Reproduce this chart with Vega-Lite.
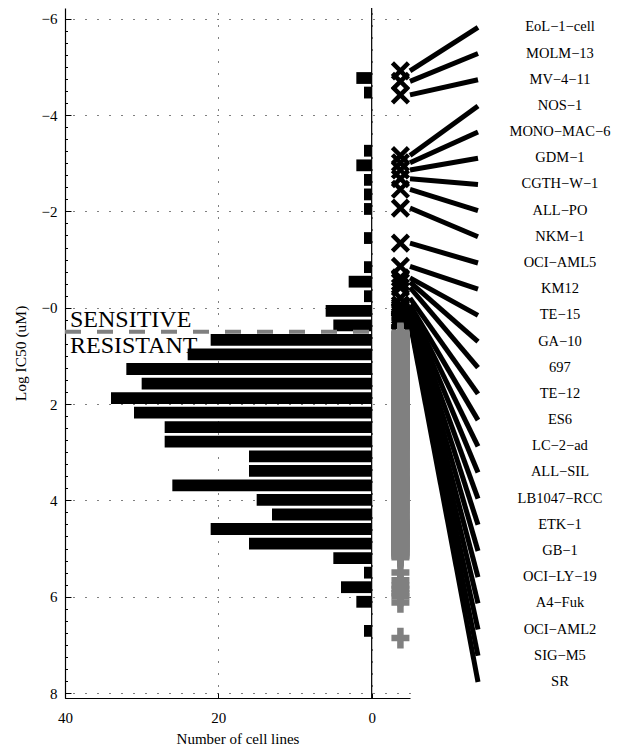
{
  "$schema": "https://vega.github.io/schema/vega-lite/v6.json",
  "autosize": {"type": "none"},
  "width": 555,
  "height": 690,
  "padding": {"left": 65, "top": 8, "right": 0, "bottom": 50},
  "config": {
    "font": "Liberation Serif",
    "view": {"stroke": null},
    "axis": {"labelFont": "Liberation Serif", "titleFont": "Liberation Serif", "titleFontWeight": "normal", "labelColor": "black", "titleColor": "black", "domainColor": "black", "tickColor": "black", "gridColor": "black"}
  },
  "datasets": {
    "hist": [
      {"c": -4.770, "n": 2}, {"c": -4.468, "n": 1}, {"c": -3.260, "n": 1}, {"c": -2.957, "n": 2},
      {"c": -2.655, "n": 1}, {"c": -2.353, "n": 1}, {"c": -2.051, "n": 1}, {"c": -1.447, "n": 1},
      {"c": -0.843, "n": 1}, {"c": -0.541, "n": 3}, {"c": -0.239, "n": 1}, {"c": 0.064, "n": 6},
      {"c": 0.366, "n": 5}, {"c": 0.668, "n": 21}, {"c": 0.970, "n": 24}, {"c": 1.272, "n": 32},
      {"c": 1.574, "n": 30}, {"c": 1.876, "n": 34}, {"c": 2.178, "n": 31}, {"c": 2.480, "n": 27},
      {"c": 2.782, "n": 27}, {"c": 3.085, "n": 16}, {"c": 3.387, "n": 16}, {"c": 3.689, "n": 26},
      {"c": 3.991, "n": 15}, {"c": 4.293, "n": 13}, {"c": 4.595, "n": 21}, {"c": 4.897, "n": 16},
      {"c": 5.199, "n": 5}, {"c": 5.501, "n": 1}, {"c": 5.803, "n": 4}, {"c": 6.106, "n": 2},
      {"c": 6.710, "n": 1}
    ],
    "sens": [
      {"name": "EoL−1−cell", "ic50": -4.92}, {"name": "MOLM−13", "ic50": -4.70}, {"name": "MV−4−11", "ic50": -4.42},
      {"name": "NOS−1", "ic50": -3.16}, {"name": "MONO−MAC−6", "ic50": -3.01}, {"name": "GDM−1", "ic50": -2.86},
      {"name": "CGTH−W−1", "ic50": -2.68}, {"name": "ALL−PO", "ic50": -2.46}, {"name": "NKM−1", "ic50": -2.07},
      {"name": "OCI−AML5", "ic50": -1.34}, {"name": "KM12", "ic50": -0.86}, {"name": "TE−15", "ic50": -0.62},
      {"name": "GA−10", "ic50": -0.53}, {"name": "697", "ic50": -0.42}, {"name": "TE−12", "ic50": -0.20},
      {"name": "ES6", "ic50": -0.06}, {"name": "LC−2−ad", "ic50": -0.01}, {"name": "ALL−SIL", "ic50": 0.03},
      {"name": "LB1047−RCC", "ic50": 0.08}, {"name": "ETK−1", "ic50": 0.12}, {"name": "GB−1", "ic50": 0.17},
      {"name": "OCI−LY−19", "ic50": 0.22}, {"name": "A4−Fuk", "ic50": 0.24}, {"name": "OCI−AML2", "ic50": 0.26},
      {"name": "SIG−M5", "ic50": 0.28}, {"name": "SR", "ic50": 0.30}
    ],
    "res": [
      {"v":0.52},{"v":0.54},{"v":0.55},{"v":0.57},{"v":0.58},{"v":0.60},{"v":0.61},{"v":0.62},{"v":0.64},{"v":0.65},{"v":0.67},{"v":0.68},{"v":0.70},{"v":0.71},{"v":0.73},{"v":0.74},{"v":0.75},{"v":0.77},{"v":0.78},{"v":0.80},{"v":0.81},
      {"v":0.83},{"v":0.84},{"v":0.85},{"v":0.86},{"v":0.88},{"v":0.89},{"v":0.90},{"v":0.91},{"v":0.93},{"v":0.94},{"v":0.95},{"v":0.96},{"v":0.98},{"v":0.99},{"v":1.00},{"v":1.01},{"v":1.03},{"v":1.04},{"v":1.05},{"v":1.06},{"v":1.08},{"v":1.09},{"v":1.10},{"v":1.11},
      {"v":1.13},{"v":1.14},{"v":1.15},{"v":1.16},{"v":1.17},{"v":1.18},{"v":1.19},{"v":1.20},{"v":1.21},{"v":1.22},{"v":1.23},{"v":1.24},{"v":1.24},{"v":1.25},{"v":1.26},{"v":1.27},{"v":1.28},{"v":1.29},{"v":1.30},{"v":1.31},{"v":1.32},{"v":1.33},{"v":1.33},{"v":1.34},{"v":1.35},{"v":1.36},{"v":1.37},{"v":1.38},{"v":1.39},{"v":1.40},{"v":1.41},{"v":1.42},
      {"v":1.43},{"v":1.44},{"v":1.45},{"v":1.46},{"v":1.47},{"v":1.48},{"v":1.49},{"v":1.50},{"v":1.51},{"v":1.52},{"v":1.53},{"v":1.54},{"v":1.55},{"v":1.56},{"v":1.57},{"v":1.58},{"v":1.59},{"v":1.60},{"v":1.61},{"v":1.62},{"v":1.63},{"v":1.64},{"v":1.65},{"v":1.66},{"v":1.67},{"v":1.68},{"v":1.69},{"v":1.70},{"v":1.71},{"v":1.72},
      {"v":1.73},{"v":1.74},{"v":1.75},{"v":1.76},{"v":1.77},{"v":1.78},{"v":1.79},{"v":1.80},{"v":1.80},{"v":1.81},{"v":1.82},{"v":1.83},{"v":1.84},{"v":1.85},{"v":1.86},{"v":1.87},{"v":1.88},{"v":1.88},{"v":1.89},{"v":1.90},{"v":1.91},{"v":1.92},{"v":1.93},{"v":1.94},{"v":1.95},{"v":1.95},{"v":1.96},{"v":1.97},{"v":1.98},{"v":1.99},{"v":2.00},{"v":2.00},{"v":2.01},{"v":2.02},
      {"v":2.03},{"v":2.04},{"v":2.05},{"v":2.06},{"v":2.07},{"v":2.08},{"v":2.09},{"v":2.10},{"v":2.11},{"v":2.12},{"v":2.13},{"v":2.14},{"v":2.15},{"v":2.16},{"v":2.17},{"v":2.18},{"v":2.18},{"v":2.19},{"v":2.20},{"v":2.21},{"v":2.22},{"v":2.23},{"v":2.24},{"v":2.25},{"v":2.26},{"v":2.27},{"v":2.28},{"v":2.29},{"v":2.30},{"v":2.31},{"v":2.32},
      {"v":2.33},{"v":2.34},{"v":2.35},{"v":2.37},{"v":2.38},{"v":2.39},{"v":2.40},{"v":2.41},{"v":2.42},{"v":2.43},{"v":2.44},{"v":2.45},{"v":2.46},{"v":2.47},{"v":2.49},{"v":2.50},{"v":2.51},{"v":2.52},{"v":2.53},{"v":2.54},{"v":2.55},{"v":2.56},{"v":2.57},{"v":2.58},{"v":2.60},{"v":2.61},{"v":2.62},
      {"v":2.63},{"v":2.64},{"v":2.65},{"v":2.67},{"v":2.68},{"v":2.69},{"v":2.70},{"v":2.71},{"v":2.72},{"v":2.73},{"v":2.74},{"v":2.75},{"v":2.76},{"v":2.77},{"v":2.79},{"v":2.80},{"v":2.81},{"v":2.82},{"v":2.83},{"v":2.84},{"v":2.85},{"v":2.86},{"v":2.87},{"v":2.88},{"v":2.90},{"v":2.91},{"v":2.92},
      {"v":2.94},{"v":2.96},{"v":2.98},{"v":3.00},{"v":3.02},{"v":3.04},{"v":3.06},{"v":3.08},{"v":3.09},{"v":3.11},{"v":3.13},{"v":3.15},{"v":3.17},{"v":3.19},{"v":3.21},{"v":3.23},
      {"v":3.24},{"v":3.26},{"v":3.28},{"v":3.30},{"v":3.32},{"v":3.34},{"v":3.36},{"v":3.38},{"v":3.39},{"v":3.41},{"v":3.43},{"v":3.45},{"v":3.47},{"v":3.49},{"v":3.51},{"v":3.53},
      {"v":3.54},{"v":3.55},{"v":3.56},{"v":3.58},{"v":3.59},{"v":3.60},{"v":3.61},{"v":3.62},{"v":3.63},{"v":3.64},{"v":3.66},{"v":3.67},{"v":3.68},{"v":3.69},{"v":3.70},{"v":3.71},{"v":3.72},{"v":3.74},{"v":3.75},{"v":3.76},{"v":3.77},{"v":3.78},{"v":3.79},{"v":3.80},{"v":3.82},{"v":3.83},
      {"v":3.85},{"v":3.87},{"v":3.89},{"v":3.91},{"v":3.93},{"v":3.95},{"v":3.97},{"v":3.99},{"v":4.01},{"v":4.03},{"v":4.05},{"v":4.07},{"v":4.09},{"v":4.11},{"v":4.13},
      {"v":4.15},{"v":4.17},{"v":4.20},{"v":4.22},{"v":4.24},{"v":4.27},{"v":4.29},{"v":4.31},{"v":4.34},{"v":4.36},{"v":4.38},{"v":4.41},{"v":4.43},
      {"v":4.45},{"v":4.46},{"v":4.48},{"v":4.49},{"v":4.51},{"v":4.52},{"v":4.54},{"v":4.55},{"v":4.56},{"v":4.58},{"v":4.59},{"v":4.61},{"v":4.62},{"v":4.64},{"v":4.65},{"v":4.66},{"v":4.68},{"v":4.69},{"v":4.71},{"v":4.72},{"v":4.74},
      {"v":4.75},{"v":4.77},{"v":4.79},{"v":4.81},{"v":4.83},{"v":4.85},{"v":4.87},{"v":4.89},{"v":4.90},{"v":4.92},{"v":4.94},{"v":4.96},{"v":4.98},{"v":5.00},{"v":5.02},{"v":5.04},
      {"v":5.06},{"v":5.09},{"v":5.12},{"v":5.15},{"v":5.18},
      {"v":5.50},
      {"v":5.66},{"v":5.77},{"v":5.84},{"v":5.93},
      {"v":5.99},{"v":6.12},
      {"v":6.86}
    ]
  },
  "resolve": {"axis": {"y": "independent"}},
  "layer": [
    {
      "data": {"name": "hist"},
      "mark": {"type": "bar", "orient": "horizontal", "height": 11.8, "color": "black"},
      "encoding": {
        "y": {
          "field": "c", "type": "quantitative",
          "scale": {"domain": [-6.12, 8], "reverse": true, "nice": false, "zero": false},
          "axis": {
            "orient": "left", "values": [-6, -4, -2, 0, 2, 4, 6, 8],
            "labelExpr": "datum.value <= 0 ? '−' + abs(datum.value) : '' + datum.value",
            "labelFontSize": 15, "labelPadding": 14, "tickSize": -6, "tickWidth": 1,
            "grid": true, "gridDash": [1, 11], "gridOpacity": 1, "gridWidth": 1,
            "domainWidth": 1.2, "title": "Log IC50 (uM)", "titleFontSize": 15.5, "titlePadding": 13
          }
        },
        "x": {
          "field": "n", "type": "quantitative",
          "scale": {"domain": [-5, 40], "range": [0, 345], "reverse": true, "nice": false, "zero": false},
          "axis": {
            "values": [0, 20, 40], "labelFontSize": 15, "labelPadding": 17, "tickSize": -5,
            "labelFlush": false, "grid": true, "gridDash": [1, 11], "gridOpacity": 1, "gridWidth": 1,
            "domainWidth": 1.2, "title": "Number of cell lines", "titleFontSize": 15, "titlePadding": 6
          }
        },
        "x2": {"datum": 0}
      }
    },
    {
      "data": {"values": [{}]},
      "mark": {"type": "rule", "color": "black", "strokeWidth": 1.2},
      "encoding": {"x": {"datum": 0}}
    },
    {
      "data": {"values": [{}]},
      "mark": {"type": "rule", "color": "#808080", "strokeWidth": 4, "strokeDash": [16, 16]},
      "encoding": {"x": {"datum": 40}, "x2": {"datum": 0}, "y": {"datum": 0.5, "axis": null}}
    },
    {
      "data": {"values": [{}]},
      "mark": {"type": "text", "text": "SENSITIVE", "align": "left", "baseline": "alphabetic", "fontSize": 24, "color": "black", "dy": -4.7},
      "encoding": {"x": {"datum": 39.35}, "y": {"datum": 0.5, "axis": null}}
    },
    {
      "data": {"values": [{}]},
      "mark": {"type": "text", "text": "RESISTANT", "align": "left", "baseline": "alphabetic", "fontSize": 24, "color": "black", "dy": 21.5},
      "encoding": {"x": {"datum": 39.35}, "y": {"datum": 0.5, "axis": null}}
    },
    {
      "data": {"name": "sens"},
      "transform": [
        {"window": [{"op": "row_number", "as": "r"}], "sort": [{"field": "ic50", "order": "ascending"}]},
        {"calculate": "-5.822 + (datum.r - 1) * 0.5437", "as": "slot"}
      ],
      "mark": {"type": "rule", "color": "black", "strokeWidth": 5, "strokeCap": "butt"},
      "encoding": {
        "x": {"datum": -5},
        "x2": {"datum": -13.87},
        "y": {"field": "ic50", "type": "quantitative", "axis": null},
        "y2": {"field": "slot"}
      }
    },
    {
      "data": {"name": "sens"},
      "transform": [
        {"window": [{"op": "row_number", "as": "r"}], "sort": [{"field": "ic50", "order": "ascending"}]},
        {"calculate": "-5.822 + (datum.r - 1) * 0.5437", "as": "slot"}
      ],
      "mark": {"type": "text", "align": "center", "baseline": "middle", "fontSize": 14.5, "color": "black"},
      "encoding": {
        "x": {"datum": -24.56},
        "y": {"field": "slot", "type": "quantitative", "axis": null},
        "text": {"field": "name"}
      }
    },
    {
      "data": {"name": "sens"},
      "mark": {"type": "point", "shape": "M-1,-1L1,1M-1,1L1,-1", "filled": false, "stroke": "black", "strokeWidth": 4.5, "size": 256, "opacity": 1, "strokeCap": "butt"},
      "encoding": {
        "x": {"datum": -3.75},
        "y": {
          "field": "ic50", "type": "quantitative",
          "axis": {
            "orient": "left", "labels": false, "grid": false, "domain": false, "title": null,
            "tickSize": -2.5, "tickWidth": 1,
            "values": [-6,-5.75,-5.5,-5.25,-5,-4.75,-4.5,-4.25,-4,-3.75,-3.5,-3.25,-3,-2.75,-2.5,-2.25,-2,-1.75,-1.5,-1.25,-1,-0.75,-0.5,-0.25,0,0.25,0.5,0.75,1,1.25,1.5,1.75,2,2.25,2.5,2.75,3,3.25,3.5,3.75,4,4.25,4.5,4.75,5,5.25,5.5,5.75,6,6.25,6.5,6.75,7,7.25,7.5,7.75,8]
          }
        }
      }
    },
    {
      "data": {"name": "res"},
      "mark": {"type": "point", "shape": "M-1,0L1,0M0,-1.15L0,1.15", "filled": false, "stroke": "#808080", "strokeWidth": 6.5, "size": 324, "opacity": 1, "strokeCap": "butt"},
      "encoding": {
        "x": {"datum": -3.75},
        "y": {"field": "v", "type": "quantitative", "axis": null}
      }
    }
  ]
}
